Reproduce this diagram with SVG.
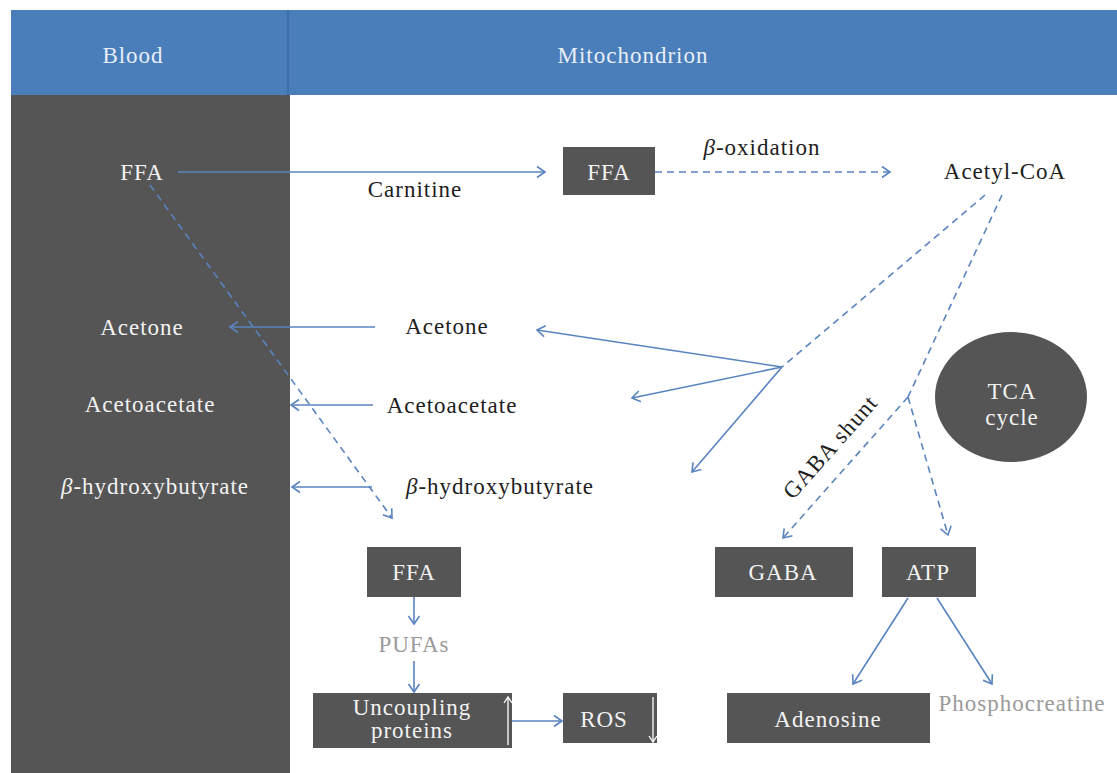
<svg xmlns="http://www.w3.org/2000/svg" width="1117" height="773" viewBox="0 0 1117 773" font-family="Liberation Serif, DejaVu Serif, serif">
<defs>
<marker id="ah" markerUnits="userSpaceOnUse" markerWidth="14" markerHeight="14" refX="10" refY="7" orient="auto">
<path d="M2,1.5 L10,7 L2,12.5" fill="none" stroke="#5a84bf" stroke-width="1.6"/>
</marker>
<marker id="ahw" markerUnits="userSpaceOnUse" markerWidth="12" markerHeight="12" refX="8" refY="6" orient="auto">
<path d="M2,2 L8,6 L2,10" fill="none" stroke="#ffffff" stroke-width="1.3"/>
</marker>
<style>
text{font-family:'Liberation Serif','DejaVu Serif',serif;font-size:23px;letter-spacing:1px;text-anchor:middle}
.lt{fill:#f2f2f2}
.hd{fill:#e8eef7}
.dk{fill:#1e1e1e}
.gy{fill:#9a9a9a}
.box{fill:#555555}
.c{fill:none;stroke:#5a84bf;stroke-width:1.6;marker-end:url(#ah)}
.d{stroke-dasharray:7 5}
.n{marker-end:none}
.w{fill:none;stroke:#ffffff;stroke-width:1.3;marker-end:url(#ahw)}
</style>
</defs>
<rect x="0" y="0" width="1117" height="773" fill="#ffffff"/>
<g id="header">
<rect x="11" y="10" width="1106" height="85" fill="#4a7ebb"/>
<line x1="288" y1="10" x2="288" y2="95" stroke="#3a6aa3" stroke-width="1.5"/>
<text class="hd" x="133" y="63">Blood</text>
<text class="hd" x="633" y="63">Mitochondrion</text>
</g>
<g id="blood">
<rect x="11" y="95" width="279" height="678" fill="#555555"/>
</g>
<g id="connectors">
<path class="c" d="M178,172 L545,172"/>
<path class="c d" d="M655,172 L890,172"/>
<path class="c d n" d="M985,195 L782,367"/>
<path class="c" d="M782,367 L537,330"/>
<path class="c" d="M782,367 L632,398"/>
<path class="c" d="M782,367 L692,472"/>
<path class="c d n" d="M1002,195 L908,397"/>
<path class="c d" d="M908,397 L783,538"/>
<path class="c d" d="M908,397 L948,535"/>
<path class="c" d="M375,327 L230,327"/>
<path class="c" d="M373,405 L291,405"/>
<path class="c" d="M372,487 L292,487"/>
<path class="c d" d="M150,185 L392,518"/>
<path class="c" d="M414,597 L414,624"/>
<path class="c" d="M414,661 L414,692"/>
<path class="c" d="M512,721 L562,721"/>
<path class="c" d="M908,598 L853,684"/>
<path class="c" d="M937,598 L992,684"/>
</g>
<g id="ffa-blood"><text class="lt" x="142" y="180">FFA</text></g>
<g id="carnitine"><text class="dk" x="415" y="197">Carnitine</text></g>
<g id="ffa-mito">
<rect class="box" x="563" y="147" width="92" height="48"/>
<text class="lt" x="609" y="180">FFA</text>
</g>
<g id="beta-oxidation"><text class="dk" x="762" y="155"><tspan font-style="italic">β</tspan>-oxidation</text></g>
<g id="acetyl-coa"><text class="dk" x="1005" y="179">Acetyl-CoA</text></g>
<g id="acetone-blood"><text class="lt" x="142" y="335">Acetone</text></g>
<g id="acetone-mito"><text class="dk" x="447" y="334">Acetone</text></g>
<g id="acetoacetate-blood"><text class="lt" x="150" y="412">Acetoacetate</text></g>
<g id="acetoacetate-mito"><text class="dk" x="452" y="413">Acetoacetate</text></g>
<g id="bhb-blood"><text class="lt" x="155" y="494"><tspan font-style="italic">β</tspan>-hydroxybutyrate</text></g>
<g id="bhb-mito"><text class="dk" x="500" y="494"><tspan font-style="italic">β</tspan>-hydroxybutyrate</text></g>
<g id="tca">
<ellipse class="box" cx="1011" cy="397" rx="76" ry="65"/>
<text class="lt" x="1012" y="399">TCA</text>
<text class="lt" x="1012" y="425">cycle</text>
</g>
<g id="gaba-shunt"><text class="dk" transform="translate(836,452) rotate(-48.5)" x="0" y="0">GABA shunt</text></g>
<g id="ffa-lower">
<rect class="box" x="367" y="547" width="94" height="50"/>
<text class="lt" x="414" y="580">FFA</text>
</g>
<g id="pufas"><text class="gy" x="414" y="652">PUFAs</text></g>
<g id="ucp">
<rect class="box" x="313" y="693" width="199" height="55"/>
<text class="lt" x="412" y="715">Uncoupling</text>
<text class="lt" x="412" y="738">proteins</text>
<path class="w" d="M508,745 L508,697"/>
</g>
<g id="ros">
<rect class="box" x="563" y="693" width="94" height="50"/>
<text class="lt" x="604" y="727">ROS</text>
<path class="w" d="M653,697 L653,742"/>
</g>
<g id="gaba">
<rect class="box" x="715" y="547" width="138" height="50"/>
<text class="lt" x="783" y="580">GABA</text>
</g>
<g id="atp">
<rect class="box" x="882" y="547" width="94" height="50"/>
<text class="lt" x="928" y="580">ATP</text>
</g>
<g id="adenosine">
<rect class="box" x="727" y="693" width="203" height="50"/>
<text class="lt" x="828" y="727">Adenosine</text>
</g>
<g id="phosphocreatine"><text class="gy" x="1022" y="711">Phosphocreatine</text></g>
</svg>
